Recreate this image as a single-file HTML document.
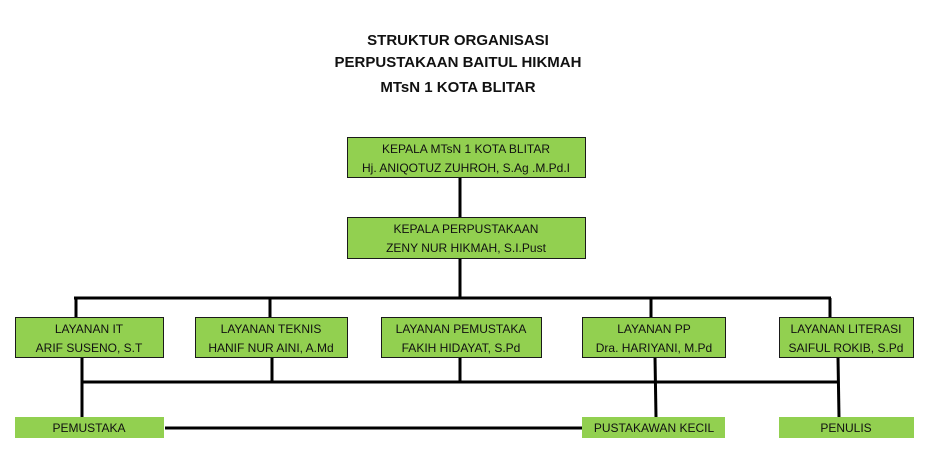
<!DOCTYPE html>
<html><head><meta charset="utf-8"><style>
html,body{margin:0;padding:0;background:#fff;}
svg{display:block;font-family:"Liberation Sans",sans-serif;}
.b{fill:#92d050;stroke:#1a1a1a;stroke-width:1}
.g{fill:#92d050}
.t{font-size:12px;fill:#111;text-anchor:middle}
.h{font-size:15px;font-weight:bold;fill:#111;text-anchor:middle}
line{stroke:#000;stroke-width:3}
</style></head><body>
<svg width="939" height="452" viewBox="0 0 939 452">
<text class="h" x="458" y="45">STRUKTUR ORGANISASI</text>
<text class="h" x="458" y="67">PERPUSTAKAAN BAITUL HIKMAH</text>
<text class="h" x="458" y="92">MTsN 1 KOTA BLITAR</text>

<line x1="460" y1="177" x2="460" y2="218"/>
<line x1="460" y1="258" x2="460" y2="298"/>
<line x1="74" y1="298" x2="831" y2="298"/>
<line x1="76" y1="298" x2="76" y2="318"/>
<line x1="270" y1="298" x2="270" y2="318"/>
<line x1="651" y1="298" x2="651" y2="318"/>
<line x1="830" y1="298" x2="830" y2="318"/>
<line x1="82" y1="382" x2="838" y2="382"/>
<line x1="82" y1="357" x2="82" y2="417"/>
<line x1="272" y1="357" x2="272" y2="382"/>
<line x1="460" y1="357" x2="460" y2="382"/>
<line x1="655" y1="357" x2="656" y2="417"/>
<line x1="838" y1="357" x2="839" y2="417"/>
<line x1="165" y1="428" x2="583" y2="428"/>

<rect class="b" x="347.5" y="137.5" width="238" height="40"/>
<text class="t" x="466" y="153">KEPALA MTsN 1 KOTA BLITAR</text>
<text class="t" x="466" y="172">Hj. ANIQOTUZ ZUHROH, S.Ag .M.Pd.I</text>
<rect class="b" x="347.5" y="217.5" width="238" height="41"/>
<text class="t" x="466" y="233">KEPALA PERPUSTAKAAN</text>
<text class="t" x="466" y="252">ZENY NUR HIKMAH, S.I.Pust</text>

<rect class="b" x="15.5" y="317.5" width="148" height="40"/>
<text class="t" x="89" y="333">LAYANAN IT</text>
<text class="t" x="89" y="352">ARIF SUSENO, S.T</text>
<rect class="b" x="195.5" y="317.5" width="152" height="40"/>
<text class="t" x="271" y="333">LAYANAN TEKNIS</text>
<text class="t" x="271" y="352">HANIF NUR AINI, A.Md</text>
<rect class="b" x="381.5" y="317.5" width="160" height="40"/>
<text class="t" x="461" y="333">LAYANAN PEMUSTAKA</text>
<text class="t" x="461" y="352">FAKIH HIDAYAT, S.Pd</text>
<rect class="b" x="582.5" y="317.5" width="143" height="40"/>
<text class="t" x="654" y="333">LAYANAN PP</text>
<text class="t" x="654" y="352">Dra. HARIYANI, M.Pd</text>
<rect class="b" x="779.5" y="317.5" width="134" height="40"/>
<text class="t" x="846" y="333">LAYANAN LITERASI</text>
<text class="t" x="846" y="352">SAIFUL ROKIB, S.Pd</text>

<rect class="g" x="15" y="417" width="149" height="21"/>
<text class="t" x="89" y="432">PEMUSTAKA</text>
<rect class="g" x="582" y="417" width="143" height="21"/>
<text class="t" x="654" y="432">PUSTAKAWAN KECIL</text>
<rect class="g" x="779" y="417" width="135" height="21"/>
<text class="t" x="846" y="432">PENULIS</text>
</svg>
</body></html>
